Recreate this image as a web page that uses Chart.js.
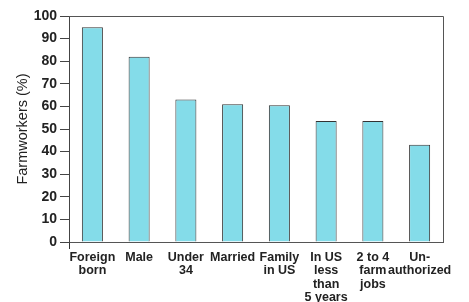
<!DOCTYPE html>
<html>
<head>
<meta charset="utf-8">
<script src="https://cdn.jsdelivr.net/npm/chart.js@4"></script>
<style>
  html, body { margin: 0; padding: 0; background: #fff; }
  #wrap { width: 469px; height: 302px; }
</style>
</head>
<body>
<div id="wrap"><canvas id="chart" width="469" height="302"></canvas></div>
<script>
// categories and values
const categories = [
  ["Foreign", "born"],
  "Male",
  ["Under", "34"],
  "Married",
  ["Family", "in US"],
  ["In US", "less", "than", "5 years"],
  ["2 to 4", "farm", "jobs"],
  ["Un-", "authorized"],
];
const farmworkers = [95, 82, 63, 61, 60.5, 53.5, 53.5, 43];
const yTicks = [0, 10, 20, 30, 40, 50, 60, 70, 80, 90, 100];

// draw the top and right edges of the frame
const frameBox = {
  id: "frameBox",
  afterDraw(chart) {
    const { ctx, chartArea: a } = chart;
    ctx.save();
    ctx.strokeStyle = "#555";
    ctx.lineWidth = 1;
    ctx.beginPath();
    ctx.moveTo(a.left, a.top + 0.5);
    ctx.lineTo(a.right + 0.5, a.top + 0.5);
    ctx.lineTo(a.right + 0.5, a.bottom);
    ctx.stroke();
    ctx.restore();
  },
};

const ctx = document.querySelector("#chart").getContext("2d");

new Chart(ctx, {
  type: "bar",
  data: {
    labels: categories,
    datasets: [
      {
        label: "Farmworkers (%)",
        data: farmworkers,
        backgroundColor: "#84dce9",
        borderColor: "#333",
        borderWidth: 1,
        barPercentage: 0.45,
        categoryPercentage: 1,
      },
    ],
  },
  options: {
    responsive: false,
    animation: false,
    layout: { padding: { top: 16, right: 26, left: 0, bottom: 0 } },
    plugins: {
      legend: { display: false },
      tooltip: { enabled: false },
    },
    scales: {
      x: {
        afterFit: (scale) => { scale.height = 60; },
        border: { color: "#555", width: 1 },
        grid: {
          drawOnChartArea: false,
          offset: true,
          tickLength: 7,
          tickColor: (c) => (c.index === 0 ? "#333" : "transparent"),
        },
        ticks: {
          color: "#222",
          padding: 2,
          maxRotation: 0,
          autoSkip: false,
          font: { family: "Liberation Sans", size: 12.5, weight: "bold", lineHeight: 1.06 },
        },
      },
      y: {
        min: 0,
        max: 100,
        afterFit: (scale) => { scale.width = 69; },
        afterBuildTicks: (scale) => { scale.ticks = yTicks.map((v) => ({ value: v })); },
        border: { color: "#444", width: 1 },
        grid: { drawOnChartArea: false, tickLength: 9, tickColor: "#444" },
        ticks: {
          color: "#222",
          padding: 3,
          font: { family: "Liberation Sans", size: 14, weight: "bold" },
        },
        title: {
          display: true,
          text: "Farmworkers (%)",
          color: "#222",
          padding: { top: 14, bottom: 0 },
          font: { family: "Liberation Sans", size: 14.5 },
        },
      },
    },
  },
  plugins: [frameBox],
});
</script>
</body>
</html>
